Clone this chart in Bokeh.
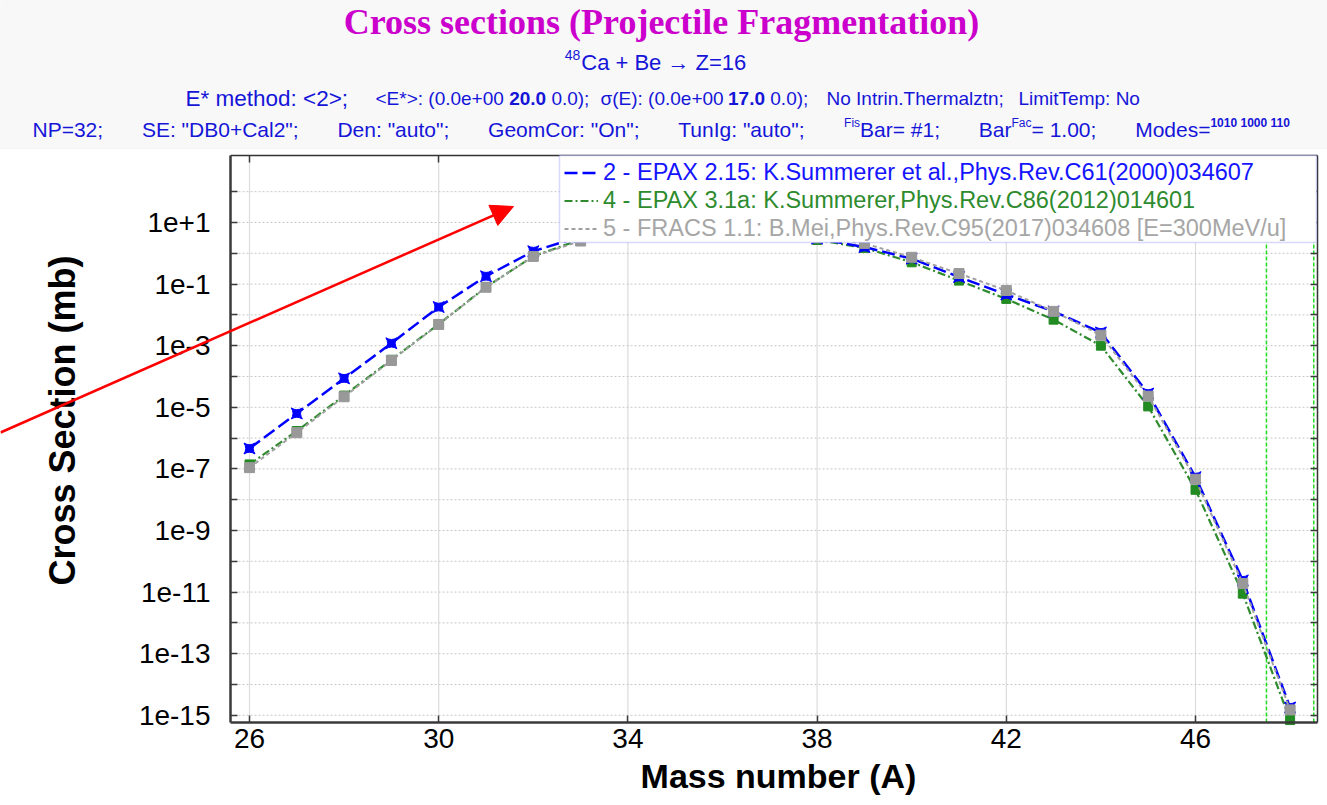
import math
from bokeh.plotting import figure
from bokeh.models import (ColumnDataSource, Range1d, FixedTicker, CustomJSTickFormatter, LogAxis,
                          LinearAxis, Label, Arrow, NormalHead, BoxAnnotation, Legend, LegendItem)
from bokeh.embed import file_html
from bokeh.resources import INLINE

# ---------------- data ----------------
mass_number = list(range(26, 49))
epax_215 = [4.6e-7, 6.3e-6, 8.7e-5, 1.2e-3, 1.8e-2, 0.18, 1.17, 3.5, 8.0, 12.0, 12.0, 7.0, 3.0,
            1.6, 0.67, 0.17, 0.046, 0.013, 2.7e-3, 2.8e-5, 5.4e-8, 2.4e-11, 1.8e-15]
epax_31a = [1.4e-7, 1.7e-6, 2.4e-5, 3.5e-4, 5.0e-3, 0.08, 0.80, 2.8, 7.0, 11.0, 11.0, 6.5, 2.7,
            1.5, 0.51, 0.13, 0.033, 7.0e-3, 1.0e-3, 1.07e-5, 2.1e-8, 8.9e-12, 7.0e-16]
fracs_11 = [1.1e-7, 1.5e-6, 2.2e-5, 3.3e-4, 4.9e-3, 0.079, 0.79, 2.5, 6.0, 10.0, 11.0, 7.0, 3.2,
            2.1, 0.74, 0.22, 0.062, 0.013, 2.2e-3, 2.3e-5, 4.6e-8, 1.9e-11, 1.5e-15]
series_labels = ["2 - EPAX 2.15: K.Summerer et al.,Phys.Rev.C61(2000)034607",
                 "4 - EPAX 3.1a: K.Summerer,Phys.Rev.C86(2012)014601",
                 "5 - FRACS 1.1: B.Mei,Phys.Rev.C95(2017)034608 [E=300MeV/u]"]
x_ticks = [26, 30, 34, 38, 42, 46]
y_tick_exponents = list(range(-15, 3))
cut_lines = [47.5, 48.5]

title_text = "Cross sections (Projectile Fragmentation)"
reaction_sup, reaction_text = "48", "Ca + Be \u2192 Z=16"
x_title = "Mass number (A)"
y_title = "Cross Section (mb)"

# ---------------- page geometry (pixels) ----------------
W, H = 1327, 805
PX_A26, PX_PER_A = 249.0, 47.3        # x pixel of A=26, pixels per mass unit
PY_E1, PY_PER_DEC = 222.0, 30.8       # y pixel of 1e+1, pixels per decade
BOX_L, BOX_R, BOX_T, BOX_B = 230, 1317, 155, 722   # plot area in pixels


def ax_x(px):
    return 26 + (px - PX_A26) / PX_PER_A


def ax_y(py):
    return 10 ** (1 - (py - PY_E1) / PY_PER_DEC)


xl, xr = ax_x(BOX_L), ax_x(BOX_R)
yb, yt = ax_y(BOX_B), ax_y(BOX_T)

p = figure(width=W, height=H, y_axis_type="log",
           x_range=Range1d(ax_x(0), ax_x(W)), y_range=Range1d(ax_y(H), ax_y(0)),
           output_backend="svg", toolbar_location=None, min_border=0)
p.title.visible = False
p.outline_line_color = None
p.background_fill_color = "white"
p.border_fill_color = "white"
p.grid.visible = False

FONT = "Liberation Sans"
AX = "#3a3a3a"
y_tick_values = [10.0 ** e for e in y_tick_exponents]

xa = p.xaxis[0]
xa.ticker = FixedTicker(ticks=x_ticks)
xa.fixed_location = yb
xa.bounds = (xl, xr)
ya = p.yaxis[0]
ya.ticker = FixedTicker(ticks=y_tick_values)
ya.fixed_location = xl
ya.bounds = (yb, yt)
ya.formatter = CustomJSTickFormatter(code="""
const e = Math.round(Math.log10(tick));
if (Math.abs(e) % 2 == 1) { return "1e" + (e >= 0 ? "+" : "-") + Math.abs(e); }
return "";
""")
for ax, stand in ((xa, 6), (ya, 20)):
    ax.major_tick_in = 7
    ax.major_tick_out = 0
    ax.minor_tick_in = 0
    ax.minor_tick_out = 0
    ax.axis_line_color = AX
    ax.axis_line_width = 2.5
    ax.major_tick_line_color = AX
    ax.major_tick_line_width = 1.5
    ax.major_label_text_font = FONT
    ax.major_label_text_font_size = "28px"
    ax.major_label_text_color = "black"
    ax.major_label_standoff = stand

ra = LogAxis(ticker=FixedTicker(ticks=y_tick_values), fixed_location=xr, bounds=(yb, yt),
             formatter=CustomJSTickFormatter(code="return '';"))
ta = LinearAxis(ticker=FixedTicker(ticks=x_ticks), fixed_location=yt, bounds=(xl, xr),
                formatter=CustomJSTickFormatter(code="return '';"))
for ax in (ra, ta):
    ax.major_tick_in = 7
    ax.major_tick_out = 0
    ax.minor_tick_in = 0
    ax.minor_tick_out = 0
    ax.axis_line_color = "#333333"
    ax.axis_line_width = 1.5
    ax.major_tick_line_color = AX
    ax.major_tick_line_width = 1.5
    ax.major_label_standoff = 0
    ax.major_label_text_font_size = "0px"
p.add_layout(ra, "right")
p.add_layout(ta, "above")

# grid lines limited to the plot area
p.segment(x0=x_ticks, x1=x_ticks, y0=[yb] * len(x_ticks), y1=[yt] * len(x_ticks),
          line_color="#dcdcdc", line_width=1.2, level="underlay")
p.segment(x0=[xl] * len(y_tick_values), x1=[xr] * len(y_tick_values),
          y0=y_tick_values, y1=y_tick_values,
          line_color="#c8c8c8", line_width=1, line_dash="2 2", level="underlay")
p.segment(x0=cut_lines, x1=cut_lines, y0=[yb] * len(cut_lines), y1=[yt] * len(cut_lines),
          line_color="#22dd22", line_width=1.5, line_dash="4 2", level="underlay")

src = ColumnDataSource(dict(A=mass_number, epax215=epax_215, epax31a=epax_31a, fracs=fracs_11))

r_green = p.line("A", "epax31a", source=src, line_color="#2e8b2e", line_width=2.2, line_dash="8 3 2 3")
p.scatter("A", "epax31a", source=src, marker="square", size=9,
          fill_color="#228b22", line_color="#228b22")
r_blue = p.line("A", "epax215", source=src, line_color="#0000ff", line_width=2.5, line_dash="13 5")
p.scatter("A", "epax215", source=src, marker="square_pin", size=11,
          fill_color="#0000ff", line_color="#0000ff")
r_gray = p.line("A", "fracs", source=src, line_color="#a0a0a0", line_width=2, line_dash="4 3")
p.scatter("A", "fracs", source=src, marker="square", size=10,
          fill_color="#999999", line_color="#999999")


def sy(py):
    return H - py


# ---------------- legend (single box, three coloured rows) ----------------
p.add_layout(BoxAnnotation(left=559, right=1316, bottom=sy(242), top=sy(155),
                           left_units="screen", right_units="screen",
                           bottom_units="screen", top_units="screen",
                           fill_color="white", fill_alpha=1.0,
                           line_color="#8080ff", line_width=1.5))
legend_rows = [(r_blue, series_labels[0], "#1414ff", 172),
               (r_green, series_labels[1], "#2e8b2e", 200),
               (r_gray, series_labels[2], "#a6a6a6", 228)]
for rend, lab, col, yc in legend_rows:
    lg = Legend(items=[LegendItem(label=lab, renderers=[rend])], location=(564, sy(yc + 13.5)),
                padding=0, margin=0, spacing=0, glyph_width=34, glyph_height=27,
                label_height=27, label_standoff=5, label_text_font=FONT,
                label_text_font_size="23.5px", label_text_color=col,
                background_fill_alpha=0, border_line_alpha=0)
    p.add_layout(lg)

# ---------------- header ----------------
p.add_layout(BoxAnnotation(left=0, right=W, bottom=sy(148), top=sy(0),
                           left_units="screen", right_units="screen",
                           bottom_units="screen", top_units="screen",
                           fill_color="#f8f8f8", fill_alpha=1.0,
                           line_color="#e6e6e6", line_width=1, level="underlay"))

CW = {' ': 278, '!': 278, '"': 355, '#': 556, '(': 333, ')': 333, '*': 389, '+': 584, ',': 278,
      '-': 333, '.': 278, '/': 278, ':': 278, ';': 278, '<': 584, '=': 584, '>': 584, '[': 278,
      ']': 278, 'A': 667, 'B': 667, 'C': 722, 'D': 722, 'E': 667, 'F': 611, 'G': 778, 'H': 722,
      'I': 278, 'J': 500, 'K': 667, 'L': 556, 'M': 833, 'N': 722, 'O': 778, 'P': 667, 'Q': 778,
      'R': 722, 'S': 667, 'T': 611, 'U': 722, 'V': 667, 'W': 944, 'X': 667, 'Y': 667, 'Z': 611,
      'a': 556, 'b': 556, 'c': 500, 'd': 556, 'e': 556, 'f': 278, 'g': 556, 'h': 556, 'i': 222,
      'j': 222, 'k': 500, 'l': 222, 'm': 833, 'n': 556, 'o': 556, 'p': 556, 'q': 556, 'r': 333,
      's': 500, 't': 278, 'u': 556, 'v': 500, 'w': 722, 'x': 500, 'y': 500, 'z': 500,
      '\u03c3': 570, '\u2192': 1000}


def tw(s, size):
    return sum(CW.get(c, 556) for c in s) * size / 1000.0


HB = "#1515d8"


def put(x, yc, text, size, bold=False, color=HB, font=FONT, align="left", angle=0.0):
    p.add_layout(Label(x=x, y=sy(yc), x_units="screen", y_units="screen",
                       text=text, text_font=font, text_font_size=f"{size}px",
                       text_font_style="bold" if bold else "normal", text_color=color,
                       text_align=align, text_baseline="middle", angle=angle))


def place_group(x, yc, runs):
    for t, s, b, r in runs:
        if t.strip():
            put(x, yc - r, t, s, bold=b)
        x += tw(t, s)
    return x


def layout_line(groups, start, end, yc):
    widths = [sum(tw(t, s) for t, s, b, r in g) for g in groups]
    gap = (end - start - sum(widths)) / (len(groups) - 1)
    x = start
    for g, w in zip(groups, widths):
        place_group(x, yc, g)
        x += w + gap


# title and reaction line
put(661, 21, title_text, 36, bold=True, color="#cc00cc", font="Liberation Serif", align="center")
s2, s2s = 22, 14
w2 = tw(reaction_sup, s2s) + 1 + tw(reaction_text, s2)
x2 = 655 - w2 / 2
put(x2, 62 - 8, reaction_sup, s2s)
put(x2 + tw(reaction_sup, s2s) + 1, 62, reaction_text, s2)

# line 3: group starts
a3, b3 = 22.5, 19
line3 = [
    (185, [("E* method: <2>;", a3, False, 0)]),
    (375, [("<E*>: (0.0e+00", b3, False, 0), (" ", b3, False, 0), ("20.0", b3, True, 0),
           (" ", b3, False, 0), ("0.0);", b3, False, 0)]),
    (600, [("\u03c3(E): (0.0e+00", b3, False, 0), (" ", b3, False, 0), ("17.0", b3, True, 0),
           (" ", b3, False, 0), ("0.0);", b3, False, 0)]),
    (826, [("No Intrin.Thermalztn;", b3, False, 0)]),
    (1018, [("LimitTemp: No", b3, False, 0)]),
]
for x0, runs in line3:
    place_group(x0, 98, runs)

# line 4
c4, c4s = 21, 12
line4 = [
    [("NP=32;", c4, False, 0)],
    [('SE: "DB0+Cal2";', c4, False, 0)],
    [('Den: "auto";', c4, False, 0)],
    [('GeomCor: "On";', c4, False, 0)],
    [('TunIg: "auto";', c4, False, 0)],
    [("Fis", c4s, False, 7), ("Bar= #1;", c4, False, 0)],
    [("Bar", c4, False, 0), ("Fac", c4s, False, 7), ("= 1.00;", c4, False, 0)],
    [("Modes=", c4, False, 0), ("1010 1000 110", c4s, True, 7)],
]
layout_line(line4, 32, 1290, 129)

# ---------------- axis titles ----------------
put(62, 420, y_title, 36, bold=True, color="black", align="center", angle=math.pi / 2)
put(778, 775, x_title, 34, bold=True, color="black", align="center")

# ---------------- red arrow ----------------
p.add_layout(Arrow(x_start=0, y_start=sy(432), x_end=513, y_end=sy(206),
                   start_units="screen", end_units="screen", line_color="#ff0000", line_width=2.5,
                   end=NormalHead(size=22, fill_color="#ff0000", line_color="#ff0000")))

open("out.html", "w").write(file_html(p, INLINE))
